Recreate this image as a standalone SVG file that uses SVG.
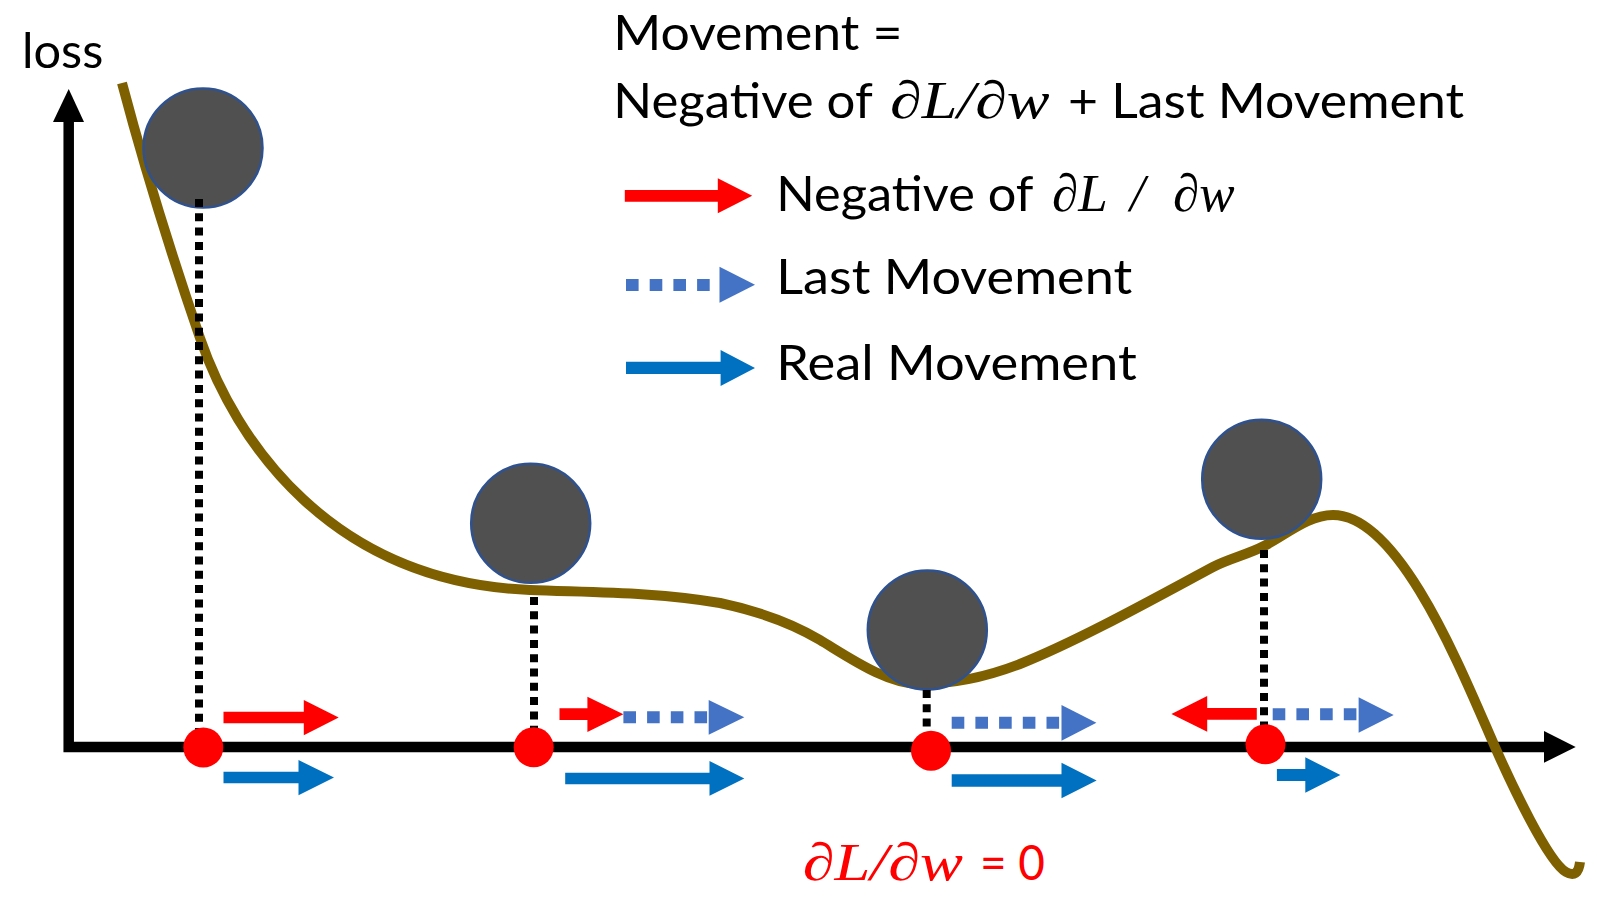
<svg xmlns="http://www.w3.org/2000/svg" width="1612" height="914" viewBox="0 0 1612 914">
<style>
.t{font-family:Lato,"Liberation Sans",sans-serif;font-size:49px;fill:#000}
.m{font-family:"Liberation Serif","DejaVu Serif",serif;font-style:italic;font-size:53px;fill:#000}
.red{fill:#FF0000}
.blu{fill:#0070C0}
.dblu{fill:#4472C4}
.dotl{stroke:#4472C4;stroke-width:12;stroke-dasharray:12.6 11.1;fill:none}
.vdot{stroke:#000;stroke-width:8;stroke-dasharray:8 6.3;fill:none}
.ball{fill:#505050;stroke:#2F528F;stroke-width:2.5}
.pt{fill:#FF0000}
</style>
<rect width="1612" height="914" fill="#fff"/>
<g id="axes">
<path d="M68.7 122 V747 H1544" fill="none" stroke="#000" stroke-width="10.5" stroke-linejoin="miter"/>
<polygon points="53,122 68.7,89 84,122" fill="#000"/>
<polygon points="1544,731 1575.7,747 1544,762.7" fill="#000"/>
<text class="t" x="22" y="68.3" textLength="81.3" lengthAdjust="spacingAndGlyphs" font-size="52">loss</text>
</g>
<g id="curve">
<path d="M122 83 C145 170 175 265 200 338 C235 440 330 582 530 590 C593 592.5 657 592 720 603 C753 610 790 622 820 640 C850 658 887 684 920 684 C953 684 989 676 1020 664 C1080 640 1157 597 1213 567 C1228 559 1249 554 1264 546 C1286 535 1308 515 1333 515 C1400 515 1462 672 1495 747 C1511 783 1548 862 1566 872 Q1578 879 1580 862" fill="none" stroke="#7F6000" stroke-width="10"/>
</g>
<g id="ball1"><circle class="ball" cx="203" cy="148" r="59.5"/></g>
<g id="ball2"><circle class="ball" cx="530.7" cy="523.3" r="59.5"/></g>
<g id="ball3"><circle class="ball" cx="927.3" cy="630" r="59.5"/></g>
<g id="ball4"><circle class="ball" cx="1261.7" cy="479.3" r="59.5"/></g>
<g id="connectors">
<line class="vdot" x1="199" y1="199" x2="199" y2="735"/>
<line class="vdot" x1="534" y1="597" x2="534" y2="735"/>
<line class="vdot" x1="926.7" y1="690" x2="926.7" y2="735"/>
<line class="vdot" x1="1264" y1="550" x2="1264" y2="735"/>
</g>
<g id="points">
<circle class="pt" cx="203.3" cy="747.5" r="20"/>
<circle class="pt" cx="533.7" cy="747.3" r="20"/>
<circle class="pt" cx="931" cy="750.7" r="20"/>
<circle class="pt" cx="1265.5" cy="744.3" r="20"/>
</g>
<g id="step1">
<polygon class="red" points="223.5,711.7 303.8,711.7 303.8,700 338.7,717.6 303.8,735.3 303.8,723.3 223.5,723.3"/>
<polygon class="blu" points="223.5,771.7 298.5,771.7 298.5,760 334,777.6 298.5,795.3 298.5,783.3 223.5,783.3"/>
</g>
<g id="step2">
<polygon class="red" points="559.5,708.3 587.4,708.3 587.4,696.7 623.4,714.3 587.4,732 587.4,720 559.5,720"/>
<line class="dotl" x1="623.4" y1="717.2" x2="708.7" y2="717.2" stroke-width="11.5"/>
<polygon class="dblu" points="708.7,700 744.3,717.3 708.7,734.7"/>
<polygon class="blu" points="565.2,772.7 709.5,772.7 709.5,761 744.3,778.4 709.5,795.7 709.5,784.3 565.2,784.3"/>
</g>
<g id="step3">
<line class="dotl" x1="951.7" y1="722.8" x2="1060" y2="722.8"/>
<polygon class="dblu" points="1061.5,705 1096.4,722.8 1061.5,740.7"/>
<polygon class="blu" points="951.7,774.3 1061.5,774.3 1061.5,762.7 1096.6,780.5 1061.5,798.3 1061.5,786.7 951.7,786.7"/>
</g>
<g id="step4">
<polygon class="red" points="1256.8,708 1207.2,708 1207.2,696 1171.4,713.9 1207.2,731.7 1207.2,719.7 1256.8,719.7"/>
<line class="dotl" x1="1272.7" y1="714.2" x2="1357" y2="714.2"/>
<polygon class="dblu" points="1358.6,697.3 1393.7,715 1358.6,732.7"/>
<polygon class="blu" points="1276.9,769 1305.3,769 1305.3,757.3 1340.4,775 1305.3,792.7 1305.3,781 1276.9,781"/>
</g>
<g id="formula">
<text class="t" x="613.3" y="50" textLength="289.3" lengthAdjust="spacingAndGlyphs">Movement =</text>
<text class="t" x="613.3" y="118.3" textLength="259.5" lengthAdjust="spacingAndGlyphs">Negative of</text>
<text class="m" x="890" y="118.3" textLength="159.6" lengthAdjust="spacingAndGlyphs">∂L/∂w</text>
<text class="t" x="1068" y="118.3" textLength="396" lengthAdjust="spacingAndGlyphs">+ Last Movement</text>
</g>
<g id="legend">
<polygon class="red" points="624.8,190 717.8,190 717.8,178.3 752.2,195.8 717.8,213.3 717.8,201.7 624.8,201.7"/>
<text class="t" x="776.3" y="210.7" textLength="257.2" lengthAdjust="spacingAndGlyphs">Negative of</text>
<text class="m" y="210.7"><tspan x="1052">∂L</tspan><tspan x="1130">/</tspan><tspan x="1173">∂w</tspan></text>
<line class="dotl" x1="626" y1="285" x2="711.5" y2="285" stroke-dasharray="13 11.3"/>
<polygon class="dblu" points="719.5,266.7 755,284.7 719.5,302.7"/>
<text class="t" x="776.3" y="294" textLength="355.9" lengthAdjust="spacingAndGlyphs">Last Movement</text>
<polygon class="blu" points="626,361.7 720.6,361.7 720.6,350 755,368 720.6,386 720.6,374 626,374"/>
<text class="t" x="776.3" y="380" textLength="360.5" lengthAdjust="spacingAndGlyphs">Real Movement</text>
</g>
<g id="zero-label">
<text class="m red" x="802.7" y="880" textLength="160.3" lengthAdjust="spacingAndGlyphs">∂L/∂w</text>
<text class="t red" x="980" y="880" textLength="65" lengthAdjust="spacingAndGlyphs">= 0</text>
</g>
</svg>
